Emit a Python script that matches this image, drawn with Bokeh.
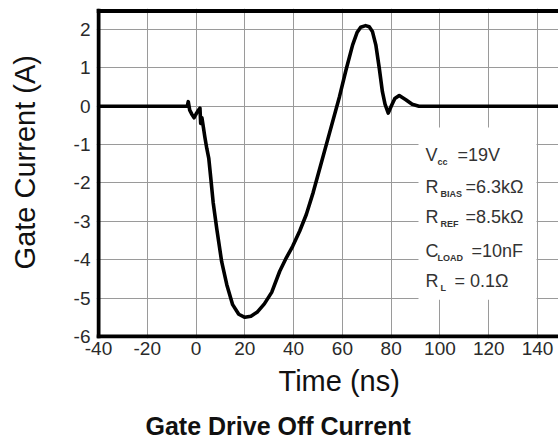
import math
from bokeh.plotting import figure
from bokeh.layouts import row
from bokeh.models import (Span, BoxAnnotation, FixedTicker, Range1d, ColumnDataSource,
                          Title, Label)
from bokeh.core.properties import value
from bokeh.embed import file_html
from bokeh.resources import INLINE

# ---- data ----
time_ns = [-40, -3.6, -3.2, -2.6, -1.8, -0.8, 0.2, 1.0, 1.6, 1.9, 2.4, 3.0, 3.6, 4.4,
           5.2, 6.0, 7.0, 8.5, 10.5, 12.6, 15.0, 17.5, 20.0, 22.5, 25.0, 28.0, 31.0,
           34.3, 37.0, 39.6, 42.5, 45.2, 48.0, 50.6, 54.7, 58.8, 61.5, 64.2, 66.0,
           67.5, 69.5, 71.0, 72.3, 73.7, 75.1, 76.4, 77.5, 78.8, 80.0, 81.5, 83.3,
           86.0, 88.6, 91.4, 160.0]
gate_current = [0.0, 0.0, 0.12, -0.1, -0.2, -0.3, -0.18, -0.1, -0.05, -0.45, -0.3, -0.55,
                -0.8, -1.1, -1.35, -1.85, -2.5, -3.2, -4.05, -4.65, -5.17, -5.42, -5.5,
                -5.47, -5.37, -5.15, -4.85, -4.3, -3.95, -3.65, -3.25, -2.82, -2.25,
                -1.65, -0.7, 0.25, 0.95, 1.6, 1.92, 2.06, 2.1, 2.07, 1.95, 1.6, 1.0,
                0.38, 0.05, -0.18, 0.0, 0.2, 0.28, 0.17, 0.05, 0.0, 0.0]

x_ticks = [-40, -20, 0, 20, 40, 60, 80, 100, 120, 140]
x_tick_labels = ["-40", "-20", "0", "20", "40", "60", "80", "100", "120", "140"]
y_ticks = [-6, -5, -4, -3, -2, -1, 0, 1, 2]
y_tick_labels = ["-6", "-5", "-4", "-3", "-2", "-1", "0", "1", "2"]

param_symbol = ["V", "R", "R", "C", "R"]
param_sub = ["cc", "BIAS", "REF", "LOAD", "L"]
param_value = ["=19V", "=6.3k\u03a9", "=8.5k\u03a9", "=10nF", " = 0.1\u03a9"]

title_text = "Gate Drive Off Current"
x_label = "Time (ns)"
y_label = "Gate Current (A)"

FONT = "Liberation Sans"

# narrow strip holding the vertical axis title
strip = figure(width=50, height=440, output_backend="svg", toolbar_location=None,
               title=None, x_axis_location=None, y_axis_location=None,
               min_border_left=0, min_border_right=0, min_border_top=0, min_border_bottom=0,
               x_range=Range1d(0, 50), y_range=Range1d(440, 0))
strip.outline_line_color = None
strip.xgrid.visible = False
strip.ygrid.visible = False
strip.add_layout(Label(x=24, y=205, angle=math.pi / 2, text=y_label, text_font=FONT,
                       text_font_size="29px", text_align="center",
                       text_baseline="alphabetic", text_color="#111111"))

p = figure(width=508, height=440, output_backend="svg", toolbar_location=None,
           title=None,
           x_range=Range1d(-40.82, 148.6), y_range=Range1d(-6.052, 2.547),
           min_border_left=46, min_border_right=0, min_border_top=8,
           min_border_bottom=102)
p.outline_line_color = None
p.background_fill_color = "white"
p.border_fill_color = "white"

# grid
p.xgrid.ticker = FixedTicker(ticks=x_ticks)
p.ygrid.ticker = FixedTicker(ticks=y_ticks)
for g in (p.xgrid, p.ygrid):
    g.grid_line_color = "#9a9a9a"
    g.grid_line_width = 1

# axes: labels only
for ax, ticks, labels in ((p.xaxis[0], x_ticks, x_tick_labels), (p.yaxis[0], y_ticks, y_tick_labels)):
    ax.ticker = FixedTicker(ticks=ticks)
    ax.major_label_overrides = {t: l for t, l in zip(ticks, labels)}
    ax.axis_line_color = None
    ax.major_tick_line_color = None
    ax.minor_tick_line_color = None
    ax.major_tick_out = 0
    ax.major_tick_in = 0
    ax.major_label_text_font = FONT
    ax.major_label_text_font_size = "19px"
    ax.major_label_text_color = "#2a2a2a"
p.xaxis[0].major_label_standoff = 3
p.yaxis[0].major_label_standoff = 6

# parameter box (white, covers grid)
p.add_layout(BoxAnnotation(left=91.2, right=139.6, top=-0.554, bottom=-5.04,
                           fill_color="white", fill_alpha=1.0, line_color=None,
                           level="underlay"))

# curve
src = ColumnDataSource(dict(t=time_ns, i=gate_current))
p.line("t", "i", source=src, line_color="black", line_width=3.6, line_join="round")

# border (left, top, bottom)
for loc, dim in ((-40, "height"), (-6, "width"), (2.482, "width")):
    p.add_layout(Span(location=loc, dimension=dim, line_color="black", line_width=4))

# parameter texts
base_y = [-1.283, -2.117, -2.899, -3.759, -4.541]
ax_x = [94.07] * 5
sub_off = [12, 15, 15, 12, 15]
val_off = [32, 40, 40, 46, 29]
p.text(x=ax_x, y=base_y, text=param_symbol, text_font=value(FONT),
       text_font_size="18px", text_color="#333333", text_baseline="alphabetic")
p.text(x=ax_x, y=base_y, text=param_sub, x_offset=sub_off, y_offset=7,
       text_font=value(FONT), text_font_size="9px", text_font_style="bold",
       text_color="#333333", text_baseline="alphabetic")
p.text(x=ax_x, y=base_y, text=param_value, x_offset=val_off, text_font=value(FONT),
       text_font_size="18px", text_color="#333333", text_baseline="alphabetic")

# x-axis title, spacer and chart title as bottom panels
p.add_layout(Title(text=x_label, align="left", offset=182, standoff=10,
                   text_font=FONT, text_font_size="29px", text_font_style="normal",
                   text_color="#111111"), "below")
p.add_layout(Title(text=" ", align="left", offset=0, standoff=0,
                   text_font=FONT, text_font_size="6px"), "below")
p.add_layout(Title(text=title_text, align="left", offset=49, standoff=0,
                   text_font=FONT, text_font_size="25px", text_font_style="bold",
                   text_color="#111111"), "below")

layout = row(strip, p)
open("out.html", "w").write(file_html(layout, INLINE))
